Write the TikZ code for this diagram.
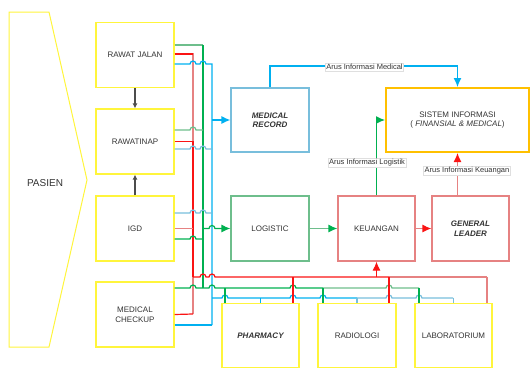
\documentclass[tikz,border=0pt]{standalone}
\usepackage{fontspec}
\setmainfont{Liberation Sans}
\usetikzlibrary{arrows.meta}

\definecolor{yl}{RGB}{255,245,60}
\definecolor{gr}{RGB}{0,176,80}
\definecolor{grL}{RGB}{110,190,140}
\definecolor{rd}{RGB}{250,20,20}
\definecolor{rdL}{RGB}{230,130,130}
\definecolor{bl}{RGB}{0,176,240}
\definecolor{blL}{RGB}{120,190,220}
\definecolor{og}{RGB}{255,192,0}

\begin{document}
\begin{tikzpicture}[x=1pt, y=-1pt,
  every node/.style={font=\fontsize{8}{9.5}\selectfont, align=center, text=black!80},
  box/.style={draw, line width=1.2pt, minimum width=78pt, minimum height=65pt, inner sep=1pt},
  unit/.style={box, draw=yl},
  ln/.style={line width=1.2pt},
  tip/.style={-{Latex[length=9pt,width=8pt]}},
  lbl/.style={fill=white, draw=gray!25, inner sep=1pt, font=\fontsize{7.5}{9}\selectfont}]
  \useasboundingbox (0,0) rectangle (531,370);

  % Pasien
  \draw[yl, line width=1pt] (9,12) -- (49,12) -- (87,180) -- (49,347) -- (9,347) -- cycle;
  \node[font=\fontsize{10}{12}\selectfont] (pasien) at (45,183) {PASIEN};

  % Units
  \node[unit] (rj) at (135,55) {RAWAT JALAN};
  \node[unit] (ri) at (135,141.5) {RAWATINAP};
  \node[unit] (igd) at (135,228.5) {IGD};
  \node[unit] (mcu) at (135,314.5) {MEDICAL\\CHECKUP};
  \node[unit, minimum height=64pt, minimum width=77pt, font=\fontsize{8}{9.5}\selectfont\bfseries\itshape] (ph) at (260.5,335.5) {PHARMACY};
  \node[unit, minimum height=64pt] (rad) at (357,335.5) {RADIOLOGI};
  \node[unit, minimum height=64pt, minimum width=77pt] (lab) at (453.5,335.5) {LABORATORIUM};

  % Records and finance
  \node[box, draw=blL, minimum height=64pt, font=\fontsize{8}{9.5}\selectfont\bfseries\itshape] (mr) at (270,120) {MEDICAL\\RECORD};
  \node[box, draw=grL] (log) at (270,228.5) {LOGISTIC};
  \node[box, draw=rdL, minimum width=77pt] (keu) at (376.5,228.5) {KEUANGAN};
  \node[box, draw=rdL, minimum width=77pt, font=\fontsize{8}{9.5}\selectfont\bfseries\itshape] (gl) at (470.5,228.5) {GENERAL\\LEADER};
  \node[box, draw=og, line width=2pt, minimum width=143pt, minimum height=64pt] (si) at (457.5,120) {SISTEM INFORMASI\\( \textit{FINANSIAL \& MEDICAL})};

  % Black arrows
  \draw[ln, black!70, -{Latex[length=5pt,width=5pt]}] (rj.south) -- (ri.north);
  \draw[ln, black!70, -{Latex[length=5pt,width=5pt]}] (igd.north) -- (ri.south);

  % Bus points
  \coordinate (rbus) at (193,314);
  \coordinate (gbus) at (203,288);
  \coordinate (bbus) at (212,325);
  \coordinate (rtap) at (193,277);
  \coordinate (btap) at (212,298);

  % Red bus
  \draw[ln, rdL] ([yshift=1pt]rj.east) -| (rtap);
  \draw[ln, rd] ([yshift=1pt]rj.east) -- (193,54);
  \draw[ln, rd] (ri.east) -- (193,141.5) -- (rtap);
  \draw[ln, rdL] (igd.east) -- (193,228.5);
  \draw[ln, rdL] (rtap) -- (rbus);
  \draw[ln, rd] (mcu.east) -- (rbus);

  % Green bus
  \draw[ln, grL] ([yshift=10pt]rj.east) -- (203,45);
  \draw[ln, gr] (203,45) -- (gbus);
  \draw[ln, grL] ([yshift=11.5pt]ri.east) -- (190,130) arc[start angle=180, end angle=0, radius=3pt] -- (203,130);
  \draw[ln, gr] ([yshift=-10.5pt]igd.east) -- (190,239) arc[start angle=180, end angle=0, radius=3pt] -- (203,239);

  % Blue bus
  \draw[ln, bl] ([yshift=-9pt]rj.east) -- (190,64) arc[start angle=180, end angle=0, radius=3pt]
    -- (200,64) arc[start angle=180, end angle=0, radius=3pt] -- (212,64) -- (bbus);
  \draw[ln, blL] ([yshift=-7.5pt]ri.east) -- (190,149) arc[start angle=180, end angle=0, radius=3pt]
    -- (200,149) arc[start angle=180, end angle=0, radius=3pt] -- (212,149);
  \draw[ln, blL] ([yshift=15.5pt]igd.east) -- (190,213) arc[start angle=180, end angle=0, radius=3pt]
    -- (200,213) arc[start angle=180, end angle=0, radius=3pt] -- (212,213);
  \draw[ln, bl] ([yshift=-10.5pt]mcu.east) -- (bbus);

  % Bus arrows
  \draw[ln, bl, tip] (mr.west -| bbus) -- (mr.west);
  \draw[ln, gr, tip] (log.west -| gbus) -- (209,228.5) arc[start angle=180, end angle=0, radius=3pt] -- (log.west);

  % Lines to the support units
  \draw[ln, rd] (rtap) -- (200,277) arc[start angle=180, end angle=0, radius=3pt]
    -- (209,277) arc[start angle=180, end angle=0, radius=3pt] -- (389,277);
  \draw[ln, rdL] (389,277) -- (487,277);
  \draw[ln, gr] ([yshift=26.5pt]mcu.east) -- (190,288) arc[start angle=180, end angle=0, radius=3pt]
    -- (209,288) arc[start angle=180, end angle=0, radius=3pt]
    -- (290,288) arc[start angle=180, end angle=0, radius=3pt] -- (323,288);
  \draw[ln, grL] (323,288) -- (386,288) arc[start angle=180, end angle=0, radius=3pt] -- (419,288);
  \draw[ln, bl] (btap) -- (222,298) arc[start angle=180, end angle=0, radius=3pt]
    -- (290,298) arc[start angle=180, end angle=0, radius=3pt]
    -- (320,298) arc[start angle=180, end angle=0, radius=3pt] -- (357,298);
  \draw[ln, blL] (357,298) -- (386,298) arc[start angle=180, end angle=0, radius=3pt]
    -- (416,298) arc[start angle=180, end angle=0, radius=3pt] -- (453,298);

  % Drops
  \draw[ln, gr] ([xshift=-35.5pt]ph.north) -- ++(0,-15);
  \draw[ln, bl] (ph.north) -- ++(0,-5);
  \draw[ln, rd] ([xshift=32.5pt]ph.north) -- ++(0,-26);
  \draw[ln, gr] ([xshift=-34pt]rad.north) -- ++(0,-15);
  \draw[ln, blL] (rad.north) -- ++(0,-5);
  \draw[ln, rd] ([xshift=32pt]rad.north) -- ++(0,-26);
  \draw[ln, gr] ([xshift=-34.5pt]lab.north) -- ++(0,-15);
  \draw[ln, blL] (lab.north) -- ++(0,-5);
  \draw[ln, rdL] ([xshift=33.5pt]lab.north) -- ++(0,-26);
  \draw[ln, rd, tip] (keu.south |- rtap) -- (keu.south);

  % Flow between units
  \draw[ln, grL, -{Latex[length=9pt,width=8pt,color=gr]}] (log) -- (keu);
  \draw[ln, rdL, -{Latex[length=9pt,width=8pt,color=rd]}] (keu) -- (gl);

  % Information flows
  \draw[ln, bl, tip] (mr.north) |- ([yshift=21pt]si.north) -- (si.north);
  \draw[ln, gr, tip] (keu.north) |- (si.west);
  \draw[ln, rdL, -{Latex[length=9pt,width=8pt,color=rd]}] (si.south |- gl.north) -- (si.south);
  \node[lbl] (lmed) at (364.5,67) {Arus Informasi Medical};
  \node[lbl] (llog) at (367,163) {Arus Informasi Logistik};
  \node[lbl] (lkeu) at (467,171) {Arus Informasi Keuangan};
\end{tikzpicture}
\end{document}
